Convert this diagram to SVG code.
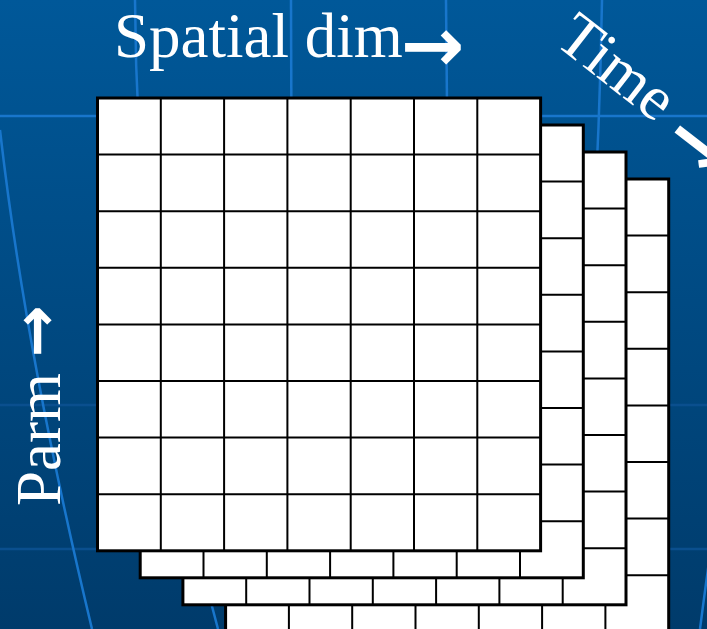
<svg xmlns="http://www.w3.org/2000/svg" xmlns:xlink="http://www.w3.org/1999/xlink" width="707" height="629" viewBox="0 0 707 629">
<style>
.lbl{font-family:"Liberation Serif","Times New Roman",serif;font-size:63px;fill:#fff}
.arr{font-family:"DejaVu Sans",sans-serif;font-weight:bold}
.bgl{fill:none;stroke:#1876cc;stroke-width:2.5}
.bgf{fill:none;stroke:#0a4f8e;stroke-width:2.5}
.frame{fill:#fff;stroke:#000;stroke-width:3}
.cells{fill:none;stroke:#000;stroke-width:2}
</style>
<defs>
<linearGradient id="bg" x1="0" y1="0" x2="0" y2="1">
<stop offset="0" stop-color="#005899"/>
<stop offset="1" stop-color="#003b6b"/>
</linearGradient>
<g id="grid">
<rect class="frame" width="443.1" height="452.8"/>
<path class="cells" d="M63.3 0V452.8M126.6 0V452.8M189.9 0V452.8M253.2 0V452.8M316.5 0V452.8M379.8 0V452.8M0 56.6H443.1M0 113.2H443.1M0 169.8H443.1M0 226.4H443.1M0 283H443.1M0 339.6H443.1M0 396.2H443.1"/>
</g>
</defs>
<rect width="707" height="629" fill="url(#bg)"/>
<g id="background-lines">
<path class="bgl" d="M0 116H707"/>
<path class="bgf" d="M0 405H707M0 549H707"/>
<path class="bgl" d="M135 0Q137 330 218 629"/>
<path class="bgl" d="M291 0L293 629"/>
<path class="bgl" d="M446 0L452 629"/>
<path class="bgl" d="M602 0Q597 300 560 629"/>
<path class="bgl" d="M0 130Q25 350 92 629"/>
<path class="bgl" d="M712 540Q705 590 700 629"/>
</g>
<g id="layer-t3"><use xlink:href="#grid" href="#grid" x="225.6" y="179"/></g>
<g id="layer-t2"><use xlink:href="#grid" href="#grid" x="182.9" y="152"/></g>
<g id="layer-t1"><use xlink:href="#grid" href="#grid" x="140.2" y="125"/></g>
<g id="layer-t0"><use xlink:href="#grid" href="#grid" x="97.5" y="98"/></g>
<g id="labels">
<text class="lbl" x="114" y="57">Spatial dim<tspan class="arr" font-size="76" dx="-2" dy="14">→</tspan></text>
<text class="lbl" transform="translate(553 43) rotate(38)">Time <tspan class="arr" font-size="76" dy="15">→</tspan></text>
<text class="lbl" transform="translate(60 506) rotate(-90)">Parm <tspan class="arr" font-size="62" dy="-3">→</tspan></text>
</g>
</svg>
